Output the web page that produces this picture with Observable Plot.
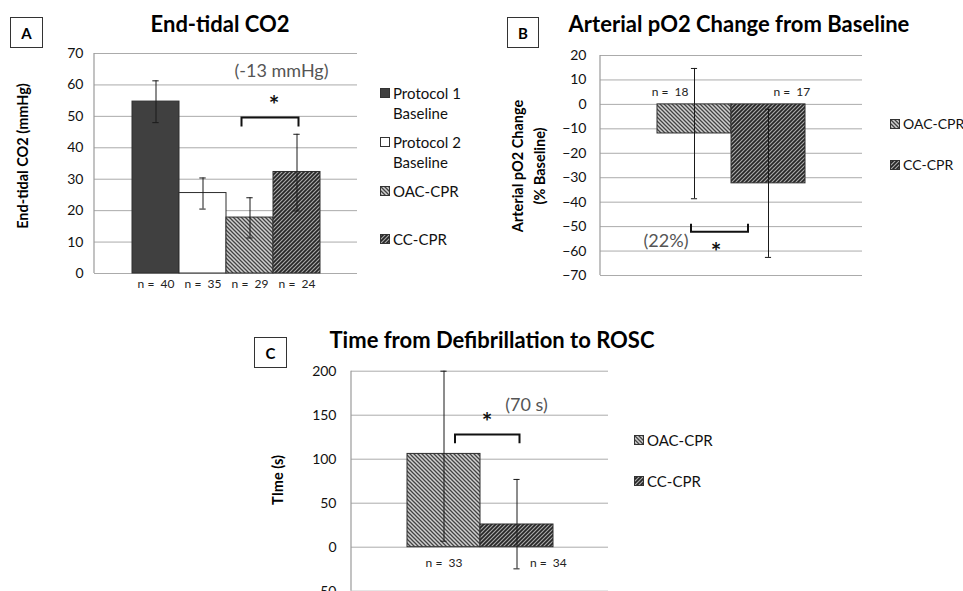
<!DOCTYPE html>
<html><head><meta charset="utf-8">
<script src="https://cdn.jsdelivr.net/npm/d3@7"></script>
<script src="https://cdn.jsdelivr.net/npm/@observablehq/plot@0.6"></script>
<style>
body{margin:0;background:#fff;}
#root{position:relative;width:963px;height:591px;overflow:hidden;font-family:Lato,"Open Sans",sans-serif;color:#000;}
.abs{position:absolute;white-space:nowrap;}
.title{font-weight:bold;font-size:22px;transform:translate(-50%,-50%);}
.box{border:1px solid #333;font-weight:bold;font-size:15px;display:flex;align-items:center;justify-content:center;box-sizing:border-box;background:#fff;}
.ytitle{font-weight:bold;font-size:14.5px;transform:translate(-50%,-50%) rotate(-90deg);text-align:center;line-height:22px;}
.legtext{font-size:15px;white-space:pre;line-height:20px;color:#111;}
</style></head>
<body><div id="root"></div>
<script>
// ---------- Panel A: End-tidal CO2 ----------
const aCategories = ["Protocol 1 Baseline", "Protocol 2 Baseline", "OAC-CPR", "CC-CPR"];
const aMeans = [54.7, 25.6, 17.8, 32.3];
const aLow = [48.0, 20.5, 11.3, 19.9];
const aHigh = [61.3, 30.4, 24.1, 44.3];
const aN = [40, 35, 29, 24];
const aTicks = [0, 10, 20, 30, 40, 50, 60, 70];
const aNote = {from: "OAC-CPR", to: "CC-CPR", bracketY: 49.5, legY: 46.6, starY: 54.7, text: "(-13 mmHg)", textY: 64.5};

// ---------- Panel B: Arterial pO2 change ----------
const bCategories = ["OAC-CPR", "CC-CPR"];
const bMeans = [-11.9, -32.3];
const bLow = [-38.6, -62.6];
const bHigh = [14.7, -2.0];
const bN = [18, 17];
const bTicks = [20, 10, 0, -10, -20, -30, -40, -50, -60, -70];
const bNote = {from: "OAC-CPR", to: "CC-CPR", bracketY: -52.3, legY: -49.0, starY: -58.8, text: "(22%)", textY: -55.8};

// ---------- Panel C: Time from defibrillation to ROSC ----------
const cCategories = ["OAC-CPR", "CC-CPR"];
const cMeans = [106, 25.8];
const cLow = [6.8, -24.6];
const cHigh = [200, 77];
const cN = [33, 34];
const cTicks = [200, 150, 100, 50, 0, -50];
const cNote = {from: "OAC-CPR", to: "CC-CPR", bracketY: 127.4, legY: 117.5, starY: 146, text: "(70 s)", textY: 162};

const FILLS = {
  "Protocol 1 Baseline": "#404040",
  "Protocol 2 Baseline": "#ffffff",
  "OAC-CPR": "url(#pOAC)",
  "CC-CPR": "url(#pCC)"
};
const FONT = "Lato, 'Open Sans', sans-serif";
const GRID = "#ababab";

const root = document.getElementById("root");

// pattern definitions (shared by all svgs in the document)
const defs = d3.select(root).append("svg").attr("width", 0).attr("height", 0)
  .style("position", "absolute").append("defs");
const pO = defs.append("pattern").attr("id", "pOAC").attr("patternUnits", "userSpaceOnUse").attr("width", 4).attr("height", 4);
pO.append("rect").attr("width", 4).attr("height", 4).attr("fill", "#d0d0d0");
pO.append("path").attr("d", "M-1,-1L5,5M-1,3L1,5M3,-1L5,1").attr("stroke", "#444").attr("stroke-width", 1.3);
const pC = defs.append("pattern").attr("id", "pCC").attr("patternUnits", "userSpaceOnUse").attr("width", 4).attr("height", 4);
pC.append("rect").attr("width", 4).attr("height", 4).attr("fill", "#a9a9a9");
pC.append("path").attr("d", "M-1,5L5,-1M-1,1L1,-1M3,5L5,3").attr("stroke", "#262626").attr("stroke-width", 1.7);

function addDiv(cls, html, style) {
  const d = document.createElement("div");
  d.className = "abs " + cls;
  d.innerHTML = html;
  Object.assign(d.style, style);
  root.appendChild(d);
  return d;
}

function drawPanel(cfg) {
  const rows = cfg.cats.map((cat, i) => ({cat, mean: cfg.means[i], low: cfg.low[i], high: cfg.high[i], n: cfg.n[i]}));
  const inner = cfg.width - cfg.ml - cfg.mr;
  const step = inner / (cfg.cats.length + 2 * cfg.pad);
  const capInset = (step - 7) / 2;
  const plot = Plot.plot({
    width: cfg.width, height: cfg.height,
    marginLeft: cfg.ml, marginRight: cfg.mr, marginTop: cfg.mt, marginBottom: cfg.mb,
    style: {fontFamily: FONT, background: "transparent", overflow: "visible"},
    x: {type: "band", domain: cfg.cats, paddingInner: 0, paddingOuter: cfg.pad, axis: null},
    y: {domain: cfg.domain, label: null},
    color: {type: "identity"},
    marks: [
      Plot.ruleY(cfg.ticks, {stroke: GRID, strokeWidth: 1}),
      Plot.barY(rows, {x: "cat", y: "mean", fill: d => FILLS[d.cat], stroke: "#2e2e2e", strokeWidth: 1}),
      Plot.ruleX(rows, {x: "cat", y1: "low", y2: "high", stroke: "#1a1a1a", strokeWidth: 1}),
      Plot.tickY(rows, {x: "cat", y: "low", insetLeft: capInset, insetRight: capInset, stroke: "#1a1a1a"}),
      Plot.tickY(rows, {x: "cat", y: "high", insetLeft: capInset, insetRight: capInset, stroke: "#1a1a1a"}),
      Plot.axisY({ticks: cfg.ticks, tickSize: 0, tickPadding: cfg.tickPad, fontSize: 14, fill: "#111", label: null}),
      ...cfg.nMarks(rows)
    ]
  });
  plot.style.position = "absolute";
  plot.style.left = cfg.left + "px";
  plot.style.top = cfg.top + "px";
  root.appendChild(plot);

  const svg = d3.select(plot);
  // left axis line
  svg.append("line")
    .attr("x1", cfg.ml).attr("x2", cfg.ml)
    .attr("y1", cfg.mt).attr("y2", cfg.height - cfg.mb)
    .attr("stroke", "#9a9a9a").attr("stroke-width", 1.2);

  // significance annotation through the plot's scales
  const sx = plot.scale("x"), sy = plot.scale("y");
  const c = k => sx.apply(k) + sx.bandwidth / 2;
  const a = cfg.note, o = cfg.offsets;
  const x1 = c(a.from) + o.fromDx, x2 = c(a.to) + o.toDx;
  const yb = sy.apply(a.bracketY), yl = sy.apply(a.legY);
  svg.append("path")
    .attr("d", `M${x1},${yl}V${yb}H${x2}V${yl}`)
    .attr("fill", "none").attr("stroke", "#111").attr("stroke-width", 2);
  const mid = (c(a.from) + c(a.to)) / 2;
  svg.append("text").text("*")
    .attr("x", o.starX(c, mid)).attr("y", sy.apply(a.starY) + 13)
    .attr("text-anchor", "middle").attr("font-size", 25).attr("font-weight", "bold")
    .attr("font-family", FONT).attr("fill", "#111");
  svg.append("text").text(a.text)
    .attr("x", o.textX(c, mid)).attr("y", sy.apply(a.textY))
    .attr("text-anchor", "middle").attr("dominant-baseline", "central")
    .attr("font-size", 18).attr("font-family", FONT).attr("fill", "#555");
  return plot;
}

function legend(x, items, size) {
  items.forEach(it => {
    const sw = `<svg width="10" height="10" style="position:absolute;left:0;top:5px"><rect x="0.5" y="0.5" width="9" height="9" fill="${FILLS[it.key]}" stroke="#333" stroke-width="1"/></svg>`;
    addDiv("legtext", sw + `<div style="margin-left:13px">${it.label}</div>`, {left: x + "px", top: (it.y - 10) + "px", fontSize: size + "px"});
  });
}

const nText = d => `n =  ${d.n}`;

// ---------- Panel A ----------
drawPanel({
  cats: aCategories, means: aMeans, low: aLow, high: aHigh, n: aN, ticks: aTicks, domain: [0, 70],
  left: 0, top: 0, width: 370, height: 300, ml: 94, mr: 13, mt: 53, mb: 27, pad: 0.76, tickPad: 11,
  note: aNote,
  offsets: {fromDx: -8, toDx: 2, starX: (c, m) => m + 1, textX: (c, m) => m + 8.5},
  nMarks: rows => [Plot.text(rows, {x: "cat", frameAnchor: "bottom", dy: 14, text: nText, fontSize: 12, fill: "#222"})]
});
addDiv("title", "End-tidal CO2", {left: "220px", top: "23px"});
addDiv("box", "A", {left: "10px", top: "17px", width: "33px", height: "31px"});
addDiv("ytitle", "End-tidal CO2 (mmHg)", {left: "23px", top: "156px"});
legend(380, [
  {key: aCategories[0], label: "Protocol 1\nBaseline", y: 92.7},
  {key: aCategories[1], label: "Protocol 2\nBaseline", y: 141.7},
  {key: aCategories[2], label: "OAC-CPR", y: 190.7},
  {key: aCategories[3], label: "CC-CPR", y: 239}
], 15);

// ---------- Panel B ----------
drawPanel({
  cats: bCategories, means: bMeans, low: bLow, high: bHigh, n: bN, ticks: bTicks, domain: [-70, 20],
  left: 480, top: 0, width: 400, height: 300, ml: 120, mr: 18, mt: 55, mb: 25, pad: 0.75, tickPad: 14,
  note: bNote,
  offsets: {fromDx: -3, toDx: -20, starX: (c) => c("OAC-CPR") + 22, textX: (c) => c("OAC-CPR") - 28},
  nMarks: rows => [
    Plot.text(rows.filter(d => d.cat === "OAC-CPR"), {x: "cat", y: 0, dy: -12, dx: -6, textAnchor: "end", text: nText, fontSize: 12, fill: "#222"}),
    Plot.text(rows.filter(d => d.cat === "CC-CPR"), {x: "cat", y: 0, dy: -12, dx: 5, textAnchor: "start", text: nText, fontSize: 12, fill: "#222"})
  ]
});
addDiv("title", "Arterial pO2 Change from Baseline", {left: "739px", top: "23px"});
addDiv("box", "B", {left: "507px", top: "17px", width: "32px", height: "31px"});
addDiv("ytitle", "Arterial pO2 Change<br>(% Baseline)", {left: "529px", top: "166px"});
legend(890, [
  {key: "OAC-CPR", label: "OAC-CPR", y: 124},
  {key: "CC-CPR", label: "CC-CPR", y: 165}
], 14);

// ---------- Panel C ----------
drawPanel({
  cats: cCategories, means: cMeans, low: cLow, high: cHigh, n: cN, ticks: cTicks, domain: [-50, 200],
  left: 240, top: 300, width: 400, height: 300, ml: 111, mr: 32, mt: 70.7, mb: 9.3, pad: 0.74, tickPad: 15,
  note: cNote,
  offsets: {fromDx: 11.5, toDx: 3, starX: (c, m) => m + 7, textX: (c) => c("CC-CPR") + 10},
  nMarks: rows => [
    Plot.text(rows.filter(d => d.cat === "OAC-CPR"), {x: "cat", y: 0, dy: 16, textAnchor: "middle", text: nText, fontSize: 12, fill: "#222"}),
    Plot.text(rows.filter(d => d.cat === "CC-CPR"), {x: "cat", y: 0, dy: 16, dx: 13, textAnchor: "start", text: nText, fontSize: 12, fill: "#222"})
  ]
});
addDiv("title", "Time from Defibrillation to ROSC", {left: "492px", top: "339px"});
addDiv("box", "C", {left: "254px", top: "337px", width: "33px", height: "31px"});
addDiv("ytitle", "TIme (s)", {left: "278px", top: "480px"});
legend(634, [
  {key: "OAC-CPR", label: "OAC-CPR", y: 440},
  {key: "CC-CPR", label: "CC-CPR", y: 481}
], 15);
</script>
</body></html>
